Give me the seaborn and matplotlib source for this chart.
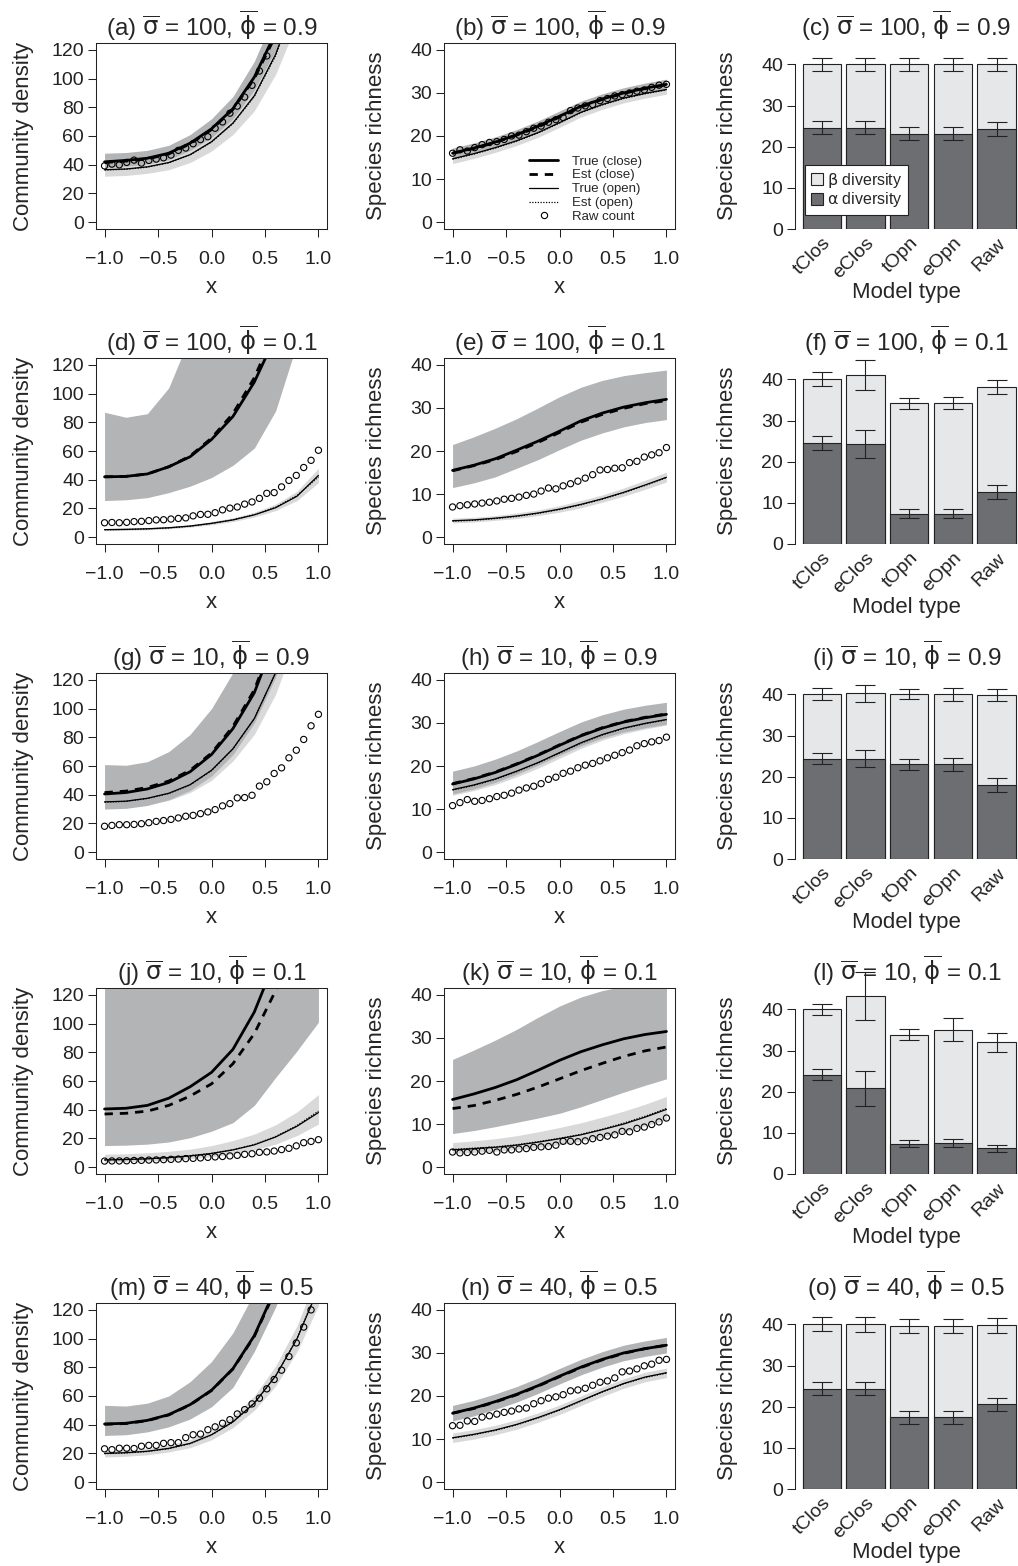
import numpy as np
import matplotlib
matplotlib.use("Agg")
import matplotlib.pyplot as plt
from matplotlib.lines import Line2D
from matplotlib.patches import Patch
import seaborn as sns

sns.set_style("ticks")
plt.rcParams['font.family'] = ['Liberation Sans', 'DejaVu Sans']
plt.rcParams['mathtext.fontset'] = 'dejavusans'

# x grids
X_LINE = [-1.0, -0.8, -0.6, -0.4, -0.2, 0.0, 0.2, 0.4, 0.6, 0.8, 1.0]
X_RAW = [-1.0, -0.931, -0.862, -0.793, -0.724, -0.655, -0.586, -0.517, -0.448, -0.379,
         -0.31, -0.241, -0.172, -0.103, -0.034, 0.034, 0.103, 0.172, 0.241, 0.31,
         0.379, 0.448, 0.517, 0.586, 0.655, 0.724, 0.793, 0.862, 0.931, 1.0]

# tc/ec = true/est (close), to/eo = true/est (open), c_*/o_* = 95% bands
PANEL_A = dict(
    tc=[42, 43, 44.5, 48, 55, 65, 79, 101, 132, 175, 235],
    ec=[41.5, 42.5, 44, 47.5, 54.5, 64.5, 78.5, 100, 130, 173, 232],
    c_lo=[38, 39, 40.5, 43.5, 50, 59, 72, 92, 120, 159, 214],
    c_hi=[48, 48.5, 50, 53.5, 61, 72, 87.5, 112, 146, 194, 260],
    to=[36.5, 37, 38.5, 41.5, 47, 56, 69, 88, 117, 158, 215],
    eo=[36.3, 36.8, 38.3, 41.3, 46.8, 55.7, 68.6, 87.5, 116, 157, 213],
    o_lo=[32, 32.5, 34, 36.5, 41.5, 49.5, 61, 77.5, 103, 139, 189],
    o_hi=[40, 40.5, 42.5, 45.5, 51.5, 61.5, 76, 97, 129, 174, 236],
    raw=[39.2, 40.4, 39.9, 41.6, 43.2, 41.1, 43.0, 43.9, 44.8, 46.7, 50.0, 51.6, 54.6, 57.5, 59.5,
         65.4, 69.8, 75.9, 80.8, 87.1, 95.3, 105.3, 115.8, 128, 142, 158, 176, 197, 220, 246])
PANEL_B = dict(
    tc=[16, 17.2, 18.6, 20.3, 22.3, 24.6, 26.9, 28.6, 30, 31.1, 32],
    ec=[16, 17.1, 18.5, 20.2, 22.1, 24.4, 26.7, 28.5, 29.9, 31, 31.9],
    c_lo=[14.8, 16, 17.4, 19.1, 21.1, 23.4, 25.7, 27.4, 28.8, 29.9, 30.8],
    c_hi=[17.2, 18.4, 19.8, 21.5, 23.5, 25.8, 28.1, 29.8, 31.2, 32.3, 33.2],
    to=[14.7, 15.9, 17.3, 18.9, 20.8, 23.1, 25.5, 27.3, 28.8, 29.9, 30.8],
    eo=[14.6, 15.8, 17.2, 18.8, 20.7, 23.0, 25.4, 27.2, 28.7, 29.8, 30.7],
    o_lo=[13.6, 14.8, 16.2, 17.8, 19.7, 22, 24.4, 26.2, 27.7, 28.8, 29.7],
    o_hi=[15.8, 17, 18.4, 20, 21.9, 24.2, 26.6, 28.4, 29.9, 31, 31.9],
    raw=[16.0, 16.8, 16.5, 17.3, 18.0, 18.5, 18.7, 19.2, 20.0, 20.2, 21.0, 21.8, 22.3, 23.2, 23.8,
         24.3, 25.9, 26.5, 27.0, 27.3, 28.2, 28.7, 29.3, 29.6, 30.0, 30.4, 30.7, 31.3, 31.8, 32.0])
PANEL_D = dict(
    tc=[42, 42.3, 44, 49, 56, 68, 84, 108, 140, 185, 245],
    ec=[42, 42.3, 44, 49, 56.5, 69, 86, 111, 145, 190, 250],
    c_lo=[25.5, 26, 27.5, 31, 35.5, 41.5, 50, 62, 88, 135, 190],
    c_hi=[87, 83.5, 86, 104, 140, 180, 230, 290, 370, 470, 600],
    to=[5.2, 5.4, 5.8, 6.5, 7.7, 9.6, 12, 15.5, 20.5, 28.5, 43],
    eo=[5.1, 5.3, 5.7, 6.4, 7.6, 9.5, 12, 15.6, 20.8, 29, 42],
    o_lo=[4.5, 4.7, 5.1, 5.8, 6.9, 8.6, 10.8, 14, 18.5, 25.5, 38],
    o_hi=[6.0, 6.2, 6.6, 7.4, 8.7, 10.8, 13.5, 17.3, 23, 32, 48],
    raw=[10.0, 10.2, 10.0, 10.3, 10.8, 11.0, 11.5, 12.0, 12.1, 12.6, 13.0, 13.4, 14.8, 15.8, 15.9,
         17.0, 19.0, 20.2, 21.0, 23.0, 24.5, 27.0, 30.5, 31.0, 35.0, 39.5, 43.0, 48.5, 53.5, 60.5])
PANEL_E = dict(
    tc=[15.5, 16.7, 18.2, 20.2, 22.3, 24.6, 27, 28.8, 30.2, 31.2, 32],
    ec=[15.4, 16.6, 18, 19.9, 22, 24.3, 26.7, 28.5, 29.9, 31, 31.7],
    c_lo=[11.5, 12.6, 14, 16, 18, 20.3, 22.5, 24.2, 25.6, 26.6, 27.3],
    c_hi=[21.5, 23.3, 25.3, 27.5, 30, 32.6, 34.8, 36.4, 37.5, 38.2, 38.8],
    to=[3.8, 4.0, 4.4, 4.9, 5.6, 6.5, 7.6, 8.9, 10.4, 12.1, 13.9],
    eo=[3.7, 3.9, 4.3, 4.8, 5.5, 6.4, 7.5, 8.8, 10.3, 12.0, 13.8],
    o_lo=[3.3, 3.5, 3.9, 4.3, 5, 5.8, 6.8, 8.1, 9.5, 11.1, 12.8],
    o_hi=[4.4, 4.6, 5, 5.6, 6.3, 7.3, 8.5, 9.8, 11.4, 13.2, 15.1],
    raw=[7.0, 7.3, 7.5, 7.7, 7.9, 8.1, 8.4, 8.8, 9.0, 9.3, 9.7, 10.0, 10.7, 11.4, 11.2,
         11.9, 12.4, 13.0, 13.7, 14.5, 15.6, 15.7, 16.0, 16.1, 17.3, 17.6, 18.6, 19.1, 19.6, 20.8])
PANEL_G = dict(
    tc=[40.5, 41.5, 44, 48.5, 56, 68, 86, 111, 150, 205, 280],
    ec=[41.5, 42.5, 45, 49.5, 57, 69, 87.5, 113, 152, 208, 285],
    c_lo=[30, 30.5, 32.5, 36.5, 43, 53, 68, 90, 122, 170, 235],
    c_hi=[61, 60.5, 63, 70, 82, 100, 125, 160, 210, 280, 370],
    to=[35, 35.5, 37.5, 41, 47, 57, 72, 93, 125, 172, 240],
    eo=[34.8, 35.3, 37.3, 40.8, 46.8, 56.8, 71.8, 93, 125, 171, 238],
    o_lo=[31, 31.5, 33, 36, 41.5, 50, 63.5, 82, 110, 151, 211],
    o_hi=[38.5, 39, 41, 45, 51.5, 62.5, 79, 102, 137, 189, 264],
    raw=[18, 18.6, 19.1, 19.1, 19.3, 19.8, 20.5, 21.4, 22, 22.8, 23.8, 25, 25.6, 26.8, 28,
         29.6, 32.2, 33.8, 37.8, 38, 39.6, 46, 49, 54.8, 58.7, 65.7, 71, 78.5, 88, 96])
PANEL_H = dict(
    tc=[15.8, 17, 18.5, 20.4, 22.5, 24.8, 27, 28.8, 30.2, 31.2, 32],
    ec=[15.9, 17.1, 18.6, 20.5, 22.6, 24.9, 27.1, 28.9, 30.3, 31.3, 32.1],
    c_lo=[13.5, 14.7, 16.2, 18.1, 20.2, 22.5, 24.7, 26.5, 27.9, 28.9, 29.7],
    c_hi=[18.8, 20, 21.6, 23.5, 25.7, 28, 30.2, 31.9, 33.2, 34.1, 34.8],
    to=[14.5, 15.6, 17, 18.8, 20.8, 23.1, 25.4, 27.3, 28.8, 29.9, 30.8],
    eo=[14.4, 15.5, 16.9, 18.7, 20.7, 23, 25.3, 27.2, 28.7, 29.8, 30.7],
    o_lo=[13.2, 14.3, 15.7, 17.5, 19.5, 21.8, 24.1, 26, 27.5, 28.6, 29.5],
    o_hi=[15.8, 16.9, 18.3, 20.1, 22.1, 24.4, 26.7, 28.6, 30.1, 31.2, 32.1],
    raw=[10.8, 11.5, 12.2, 11.8, 12.0, 12.4, 12.9, 13.2, 13.7, 14.4, 14.9, 15.3, 15.9, 16.9, 17.4,
         18.3, 18.8, 19.6, 20.2, 20.6, 21.2, 21.9, 22.5, 23.1, 23.7, 24.7, 25.2, 25.6, 25.9, 26.7])
PANEL_J = dict(
    tc=[40.5, 41, 43, 48, 56, 66, 82, 108, 145, 200, 275],
    ec=[37, 37.5, 39, 43, 49.5, 58, 72, 93, 123, 168, 230],
    c_lo=[15, 15.3, 16, 17.5, 20.5, 25, 31, 43, 62.5, 81, 101],
    c_hi=[140, 145, 155, 170, 195, 230, 280, 350, 440, 560, 720],
    to=[5, 5.3, 5.8, 6.6, 7.8, 9.5, 12, 15.5, 21, 28.5, 38],
    eo=[5, 5.3, 5.8, 6.6, 7.9, 9.6, 12.1, 15.7, 21.3, 29, 39],
    o_lo=[3.5, 3.8, 4.2, 4.8, 5.8, 7.2, 9.2, 12, 16, 22, 30],
    o_hi=[9, 9.3, 10, 11, 12.5, 15, 18.5, 23, 29.5, 38.5, 50.5],
    raw=[4.2, 4.3, 4.3, 4.4, 4.6, 4.7, 4.9, 5.0, 5.2, 5.4, 5.6, 5.9, 6.1, 6.4, 6.8,
         7.1, 7.4, 7.8, 8.2, 8.9, 9.3, 10.3, 10.6, 11.2, 12.2, 13.1, 14.8, 17.0, 17.9, 19.1])
PANEL_K = dict(
    tc=[15.7, 17, 18.5, 20.3, 22.5, 24.8, 26.8, 28.4, 29.8, 30.8, 31.5],
    ec=[13.6, 14.3, 15.5, 16.9, 18.6, 20.5, 22.4, 24.1, 25.7, 27, 27.9],
    c_lo=[7.8, 8.5, 9.4, 10.4, 11.4, 12.5, 14, 15.7, 17.4, 19, 20.5],
    c_hi=[25, 27.2, 29.5, 32, 34.8, 37.4, 39.5, 41, 42, 42.8, 43.5],
    to=[4, 4.3, 4.6, 5.1, 5.8, 6.6, 7.5, 8.7, 10, 11.6, 13.4],
    eo=[4.1, 4.4, 4.7, 5.2, 5.9, 6.7, 7.6, 8.8, 10.2, 11.8, 13.6],
    o_lo=[3.2, 3.4, 3.7, 4.1, 4.6, 5.2, 6, 7, 8.1, 9.5, 11],
    o_hi=[5.7, 6.1, 6.6, 7.3, 8.2, 9.2, 10.3, 11.6, 13, 14.6, 16.4],
    raw=[3.5, 3.3, 3.4, 3.5, 3.7, 3.9, 3.5, 4.0, 4.0, 4.2, 4.3, 4.6, 4.7, 4.8, 5.1,
         6.0, 6.0, 5.9, 6.1, 6.6, 6.9, 7.2, 7.5, 8.3, 8.2, 9.0, 9.3, 9.9, 10.5, 11.4])
PANEL_M = dict(
    tc=[40.5, 41, 43, 47, 54, 64, 79, 102, 135, 180, 245],
    ec=[40.3, 40.8, 42.8, 46.8, 53.8, 63.8, 78.8, 101.5, 134, 179, 243],
    c_lo=[32.5, 33, 35, 38.5, 44, 52.5, 66, 91, 122, 165, 225],
    c_hi=[53.5, 53, 55, 60, 70, 84, 104, 132, 170, 225, 300],
    to=[20, 20.5, 21.5, 23.5, 27, 33, 42, 55, 74, 100, 135],
    eo=[19.8, 20.3, 21.3, 23.3, 26.8, 32.8, 41.8, 55, 74, 100, 136],
    o_lo=[17.5, 18, 19, 21, 24, 29.5, 38, 50, 67, 91, 123],
    o_hi=[22, 22.5, 23.5, 25.8, 29.7, 36.3, 46, 60, 81, 109, 147],
    raw=[23.2, 22.6, 23.6, 23.6, 23.4, 25, 25.6, 25.6, 27, 27.5, 27.5, 31, 33, 33.5, 36.5,
         38.5, 41, 43.5, 47.5, 50.5, 54.5, 58.5, 65, 71.5, 78, 87.5, 97, 108, 120, 134])
PANEL_N = dict(
    tc=[16, 17.2, 18.7, 20.4, 22.4, 24.6, 26.7, 28.5, 30, 31, 31.8],
    ec=[16, 17.1, 18.6, 20.3, 22.3, 24.5, 26.6, 28.4, 29.9, 31, 31.8],
    c_lo=[14.2, 15.4, 16.9, 18.6, 20.6, 22.8, 24.9, 26.7, 28.2, 29.2, 30],
    c_hi=[17.8, 19, 20.5, 22.2, 24.2, 26.4, 28.5, 30.3, 31.8, 32.8, 33.6],
    to=[10.3, 11.1, 12.1, 13.4, 15, 16.8, 18.9, 21, 22.9, 24.4, 25.4],
    eo=[10.2, 11, 12, 13.3, 14.9, 16.7, 18.8, 20.9, 22.8, 24.3, 25.3],
    o_lo=[9.2, 10, 11, 12.3, 13.9, 15.7, 17.8, 19.9, 21.8, 23.3, 24.3],
    o_hi=[11.4, 12.2, 13.2, 14.5, 16.1, 17.9, 20, 22.1, 24, 25.5, 26.5],
    raw=[13.1, 13.2, 14.2, 14.1, 15.1, 15.4, 15.8, 16.2, 16.5, 17.0, 17.2, 18.2, 18.9, 19.5, 19.8,
         20.3, 21.2, 21.4, 21.8, 22.5, 23.2, 23.5, 24.2, 25.6, 25.8, 26.3, 27.0, 27.4, 28.3, 28.5])

# stacked bars: gamma (total) and alpha diversity, with sd
MODELS = ['tClos', 'eClos', 'tOpn', 'eOpn', 'Raw']
BAR_C = dict(gamma=[40, 40, 40, 40, 40], gamma_sd=[1.6, 1.6, 1.5, 1.6, 1.6],
             alpha=[24.6, 24.6, 23.2, 23.2, 24.3], alpha_sd=[1.6, 1.6, 1.6, 1.6, 1.6])
BAR_F = dict(gamma=[40, 41.1, 34.2, 34.2, 38.2], gamma_sd=[1.7, 3.6, 1.4, 1.5, 1.7],
             alpha=[24.6, 24.3, 7.4, 7.4, 12.7], alpha_sd=[1.75, 3.45, 1.15, 1.15, 1.7])
BAR_I = dict(gamma=[40, 40.3, 40, 40, 39.8], gamma_sd=[1.45, 2.1, 1.2, 1.6, 1.5],
             alpha=[24.4, 24.4, 23.0, 23.0, 18.0], alpha_sd=[1.4, 2.0, 1.3, 1.6, 1.6])
BAR_L = dict(gamma=[40, 43.3, 33.9, 35.1, 32.0], gamma_sd=[1.25, 5.85, 1.35, 2.75, 2.35],
             alpha=[24.1, 20.8, 7.4, 7.5, 6.2], alpha_sd=[1.3, 4.25, 0.95, 1.05, 0.8])
BAR_O = dict(gamma=[40, 40, 39.6, 39.6, 39.8], gamma_sd=[1.7, 1.8, 1.8, 1.8, 1.8],
             alpha=[24.4, 24.4, 17.4, 17.4, 20.6], alpha_sd=[1.6, 1.6, 1.6, 1.6, 1.6])

SIGMAS = ['100', '100', '10', '10', '40']
PHIS = ['0.9', '0.1', '0.9', '0.1', '0.5']
LETTERS = ['abc', 'def', 'ghi', 'jkl', 'mno']

DARK = '#b3b4b6'
LIGHT = '#d9d9da'
ALPHA_COL = '#6d6e71'
BETA_COL = '#e6e7e8'
DASHED = (0, (3.0, 2.5))
DOTTED = (0, (1, 1.2))

W, H = 1018, 1566
fig = plt.figure(figsize=(W / 100, H / 100), dpi=100)

TICK_FS = 14
LABEL_FS = 16
TITLE_FS = 17.5


def make_title(letter, sig, phi):
    return (f'({letter}) ' + r'$\overline{\mathrm{\sigma}}$' + f' = {sig}, '
            + r'$\overline{\mathrm{\phi}}$' + f' = {phi}')


def add_axes(left, top, width, height=186):
    return fig.add_axes([left / W, 1 - (top + height) / H, width / W, height / H])


def style_axes(ax):
    ax.tick_params(axis='both', direction='out', length=5.5, width=0.75,
                   labelsize=TICK_FS, color='#222222', labelcolor='#222222')
    ax.tick_params(axis='x', pad=10)
    ax.tick_params(axis='y', pad=3)
    for s in ax.spines.values():
        s.set_linewidth(0.75)
        s.set_color('#222222')


def line_panel(ax, d, density, title, legend=False):
    ax.fill_between(X_LINE, d['o_lo'], d['o_hi'], color=LIGHT, lw=0)
    ax.fill_between(X_LINE, d['c_lo'], d['c_hi'], color=DARK, lw=0)
    sns.lineplot(x=X_LINE, y=d['tc'], ax=ax, color='black', lw=2.0)
    sns.lineplot(x=X_LINE, y=d['ec'], ax=ax, color='black', lw=2.0, linestyle=DASHED)
    sns.lineplot(x=X_LINE, y=d['to'], ax=ax, color='black', lw=0.9)
    sns.lineplot(x=X_LINE, y=d['eo'], ax=ax, color='black', lw=0.9, linestyle=DOTTED)
    sns.scatterplot(x=X_RAW, y=d['raw'], ax=ax, marker='o', s=20,
                    facecolors='none', edgecolors='black', linewidth=0.8)
    ax.set_xlim(-1.08, 1.08)
    ax.set_xticks([-1.0, -0.5, 0.0, 0.5, 1.0])
    ax.set_xticklabels(['\u22121.0', '\u22120.5', '0.0', '0.5', '1.0'])
    if density:
        ax.set_ylim(-4.8, 124.8)
        ax.set_yticks([0, 20, 40, 60, 80, 100, 120])
        ax.set_ylabel('Community density', fontsize=LABEL_FS)
        ax.yaxis.set_label_coords(-0.27, 0.5)
    else:
        ax.set_ylim(-1.6, 41.6)
        ax.set_yticks([0, 10, 20, 30, 40])
        ax.set_ylabel('Species richness', fontsize=LABEL_FS)
        ax.yaxis.set_label_coords(-0.245, 0.5)
    ax.set_xlabel('x', fontsize=LABEL_FS)
    ax.xaxis.set_label_coords(0.5, -0.26)
    ax.set_title(title, fontsize=TITLE_FS, pad=5)
    style_axes(ax)
    if legend:
        handles = [Line2D([], [], color='black', lw=2.0),
                   Line2D([], [], color='black', lw=2.0, linestyle=DASHED),
                   Line2D([], [], color='black', lw=0.9),
                   Line2D([], [], color='black', lw=0.9, linestyle=DOTTED),
                   Line2D([], [], color='black', marker='o', ls='none', mfc='none',
                          markersize=4.5, mew=0.8)]
        labels = ['True (close)', 'Est (close)', 'True (open)', 'Est (open)', 'Raw count']
        ax.legend(handles, labels, loc='lower right', bbox_to_anchor=(0.89, -0.01),
                  frameon=False, fontsize=9.5, handlelength=2.2, labelspacing=0.12,
                  handletextpad=1.0, borderaxespad=0.2)


def bar_panel(ax, b, title, legend=False):
    sns.barplot(x=MODELS, y=b['gamma'], ax=ax, color=BETA_COL, edgecolor='#222222',
                linewidth=0.8, width=0.877, saturation=1, errorbar=None)
    sns.barplot(x=MODELS, y=b['alpha'], ax=ax, color=ALPHA_COL, edgecolor='#222222',
                linewidth=0.8, width=0.877, saturation=1, errorbar=None)
    pos = np.arange(len(MODELS))
    for vals, sds in ((b['gamma'], b['gamma_sd']), (b['alpha'], b['alpha_sd'])):
        eb = ax.errorbar(pos, vals, yerr=sds, fmt='none', ecolor='#222222',
                         elinewidth=0.8, capsize=7, capthick=0.8)
        for art in eb.lines[1] + eb.lines[2]:
            art.set_clip_on(False)
    ax.set_xlim(-0.613, 4.49)
    ax.set_ylim(0, 45.2)
    ax.set_yticks([0, 10, 20, 30, 40])
    ax.spines['left'].set_bounds(0, 40)
    for s in ('top', 'right', 'bottom'):
        ax.spines[s].set_visible(False)
    style_axes(ax)
    ax.set_xticks(pos)
    ax.set_xticklabels(MODELS, rotation=45, ha='right', va='top', rotation_mode='anchor')
    ax.tick_params(axis='x', length=0, pad=4, labelsize=14)
    ax.set_xlabel('Model type', fontsize=LABEL_FS)
    ax.xaxis.set_label_coords(0.5, -0.285)
    ax.set_ylabel('Species richness', fontsize=LABEL_FS)
    ax.yaxis.set_label_coords(-0.255, 0.5)
    ax.set_title(title, fontsize=TITLE_FS, pad=5)
    if legend:
        handles = [Patch(facecolor=BETA_COL, edgecolor='#222222', lw=0.8),
                   Patch(facecolor=ALPHA_COL, edgecolor='#222222', lw=0.8)]
        leg = ax.legend(handles, [r'$\mathrm{\beta}$ diversity', r'$\mathrm{\alpha}$ diversity'],
                        loc='lower left', bbox_to_anchor=(0.045, 0.075), fontsize=11.5,
                        handlelength=0.75, handleheight=0.75, handletextpad=0.25,
                        labelspacing=0.05, borderpad=0.35, borderaxespad=0.0,
                        fancybox=False, framealpha=1)
        leg.get_frame().set_edgecolor('#222222')
        leg.get_frame().set_linewidth(0.8)


DENS = [PANEL_A, PANEL_D, PANEL_G, PANEL_J, PANEL_M]
RICH = [PANEL_B, PANEL_E, PANEL_H, PANEL_K, PANEL_N]
BARS = [BAR_C, BAR_F, BAR_I, BAR_L, BAR_O]

for r in range(5):
    top = 43 + 315 * r
    l1, l2, l3 = LETTERS[r]
    ax1 = add_axes(96, top, 231)
    line_panel(ax1, DENS[r], True, make_title(l1, SIGMAS[r], PHIS[r]))
    ax2 = add_axes(444, top, 231)
    line_panel(ax2, RICH[r], False, make_title(l2, SIGMAS[r], PHIS[r]), legend=(r == 0))
    ax3 = add_axes(795, top, 223)
    bar_panel(ax3, BARS[r], make_title(l3, SIGMAS[r], PHIS[r]), legend=(r == 0))

fig.savefig('out.png', dpi=100)
